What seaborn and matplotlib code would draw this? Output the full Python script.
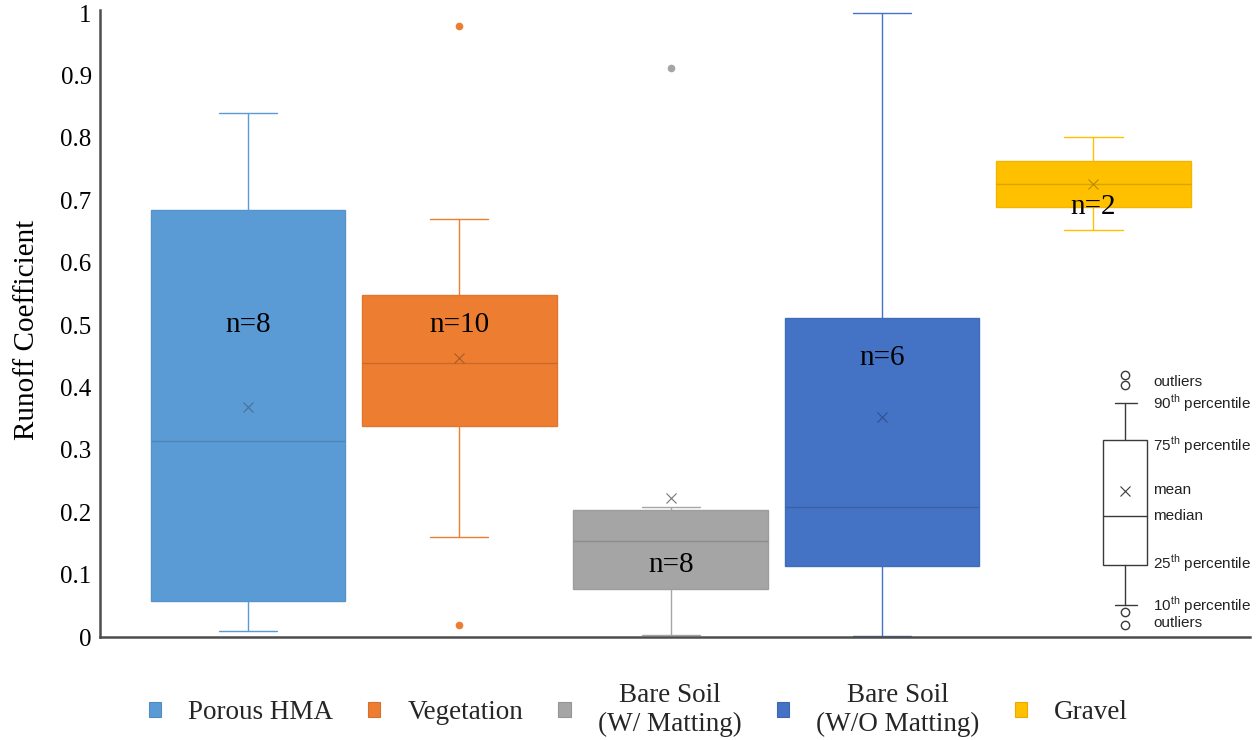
import numpy as np
import pandas as pd
import matplotlib.pyplot as plt
import seaborn as sns
from matplotlib.colors import to_rgb
from matplotlib.patches import Patch

# surfaces and their colours (Office palette)
surfaces = ["Porous HMA", "Vegetation", "Bare Soil\n(W/ Matting)",
            "Bare Soil\n(W/O Matting)", "Gravel"]
colors = ["#5B9BD5", "#ED7D31", "#A5A5A5", "#4472C4", "#FFC000"]

# runoff coefficients per surface
porous_hma = [0.01, 0.01, 0.074, 0.30, 0.33, 0.68, 0.70, 0.84]
vegetation = [0.02, 0.16, 0.33, 0.366, 0.42, 0.46, 0.513, 0.561, 0.67, 0.98]
bare_soil_matting = [0.003, 0.075, 0.078, 0.13, 0.178, 0.202, 0.209, 0.912]
bare_soil_no_matting = [0.002, 0.102, 0.15, 0.268, 0.593, 1.0]
gravel = [0.652, 0.801]
runoff = [porous_hma, vegetation, bare_soil_matting, bare_soil_no_matting, gravel]

# where the "n=" labels sit (y value)
n_label_y = [0.50, 0.50, 0.115, 0.448, 0.69]

y_ticks = [0, 0.1, 0.2, 0.3, 0.4, 0.5, 0.6, 0.7, 0.8, 0.9, 1]

df = pd.DataFrame({
    "surface": np.repeat(surfaces, [len(v) for v in runoff]),
    "runoff": np.concatenate(runoff),
})

sns.set_theme(style="white")
plt.rcParams["font.family"] = ["Liberation Serif", "DejaVu Serif"]
plt.rcParams["mathtext.fontset"] = "custom"
plt.rcParams["mathtext.rm"] = "Liberation Sans"


def shade(c, f):
    return tuple(np.array(to_rgb(c)) * f)


fig = plt.figure(figsize=(12.58, 7.4), dpi=100)
ax = fig.add_axes([0.0795, 0.139, 0.914, 0.8475])

sns.boxplot(data=df, x="surface", y="runoff", hue="surface",
            order=surfaces, hue_order=surfaces, palette=colors, saturation=1,
            width=0.92, linewidth=1, fliersize=4.5, whis=1.5,
            showmeans=True,
            meanprops=dict(marker="x", markersize=7, markeredgewidth=0.8),
            legend=False, ax=ax)

# excel-like styling of each box
for cont, col in zip(ax.containers, colors):
    for b in cont.boxes:
        b.set_facecolor(col)
        b.set_edgecolor(shade(col, 0.95))
    for ln in cont.whiskers:
        ln.set_color(col)
    for ln in cont.caps:
        ln.set_color(col)
        x = ln.get_xdata()
        c = np.mean(x)
        h = (x[1] - x[0]) * 0.3
        ln.set_xdata([c - h, c + h])
    for ln in cont.medians:
        ln.set_color(shade(col, 0.85))
        ln.set_linewidth(1)
    for ln in cont.means:
        ln.set_markeredgecolor(shade(col, 0.72))
    for ln in cont.fliers:
        ln.set_markerfacecolor(col)
        ln.set_markeredgecolor(col)

for i, (vals, ly) in enumerate(zip(runoff, n_label_y)):
    ax.text(i, ly, f"n={len(vals)}", ha="center", va="center",
            fontsize=21, color="black")

ax.set_xlim(-0.70, 4.74)
ax.set_ylim(0, 1.005)
ax.set_yticks(y_ticks)
ax.set_yticklabels([f"{v:g}" for v in y_ticks])
ax.tick_params(axis="y", length=0, labelsize=18, pad=6, labelcolor="black")
ax.tick_params(axis="x", bottom=False, labelbottom=False)
ax.set_xlabel("")
ax.set_ylabel("Runoff Coefficient", fontsize=21, color="black")
ax.yaxis.set_label_coords(-0.052, 0.49)
sns.despine(ax=ax)
for s in ["left", "bottom"]:
    ax.spines[s].set_color("#4d4d4d")
    ax.spines[s].set_linewidth(1.8)

handles = [Patch(facecolor=col, edgecolor=shade(col, 0.9), linewidth=0.8)
           for col in colors]
leg = ax.legend(handles, surfaces, loc="center", bbox_to_anchor=(0.468, -0.116),
                ncol=5, frameon=False, fontsize=19.5, handlelength=0.45,
                handleheight=0.5, handletextpad=1.0, columnspacing=1.3)
for t in leg.get_texts():
    t.set_multialignment("center")

# box-plot key on the right
kx = fig.add_axes([1085 / 1258, 1 - 640 / 740, 173 / 1258, 280 / 740])
kx.set_xlim(0, 173)
kx.set_ylim(280, 0)
kx.axis("off")
kc = "#3a3a3a"
kx.add_patch(plt.Rectangle((18, 80), 44, 125, fill=False, edgecolor=kc, lw=1))
kx.plot([18, 62], [156, 156], color=kc, lw=1)
kx.plot([40, 40], [43, 80], color=kc, lw=1)
kx.plot([40, 40], [205, 245], color=kc, lw=1)
kx.plot([30, 52], [43, 43], color=kc, lw=1)
kx.plot([30, 52], [245, 245], color=kc, lw=1)
kx.plot([40], [131], marker="x", color=kc, markersize=7, mew=0.8)
kx.plot([40, 40, 40, 40], [15, 25, 252, 265], ls="none", marker="o",
        mfc="none", mec=kc, markersize=6, mew=1)
th = r"$^{\mathrm{th}}$"
key_labels = [(22, "outliers"), (43, f"90{th} percentile"),
              (85, f"75{th} percentile"), (130, "mean"), (156, "median"),
              (203, f"25{th} percentile"), (245, f"10{th} percentile"),
              (263, "outliers")]
for ky, txt in key_labels:
    kx.text(68, ky, txt, ha="left", va="center", fontsize=11,
            family="Liberation Sans", color="#222222")

fig.savefig("out.png", dpi=100)
